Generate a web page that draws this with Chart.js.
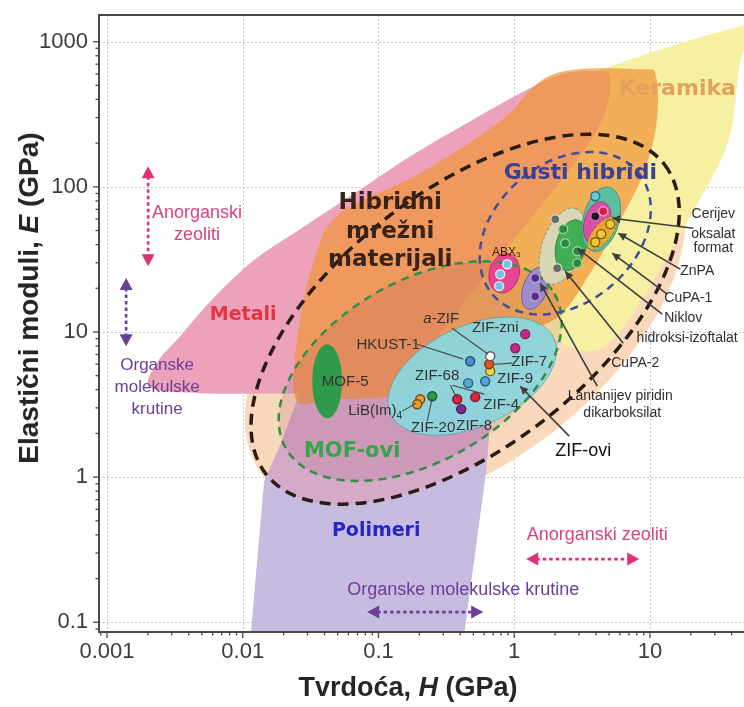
<!DOCTYPE html>
<html>
<head>
<meta charset="utf-8">
<script src="https://cdn.jsdelivr.net/npm/chart.js@4.4.1/dist/chart.umd.min.js"></script>
<style>
  html, body { margin: 0; padding: 0; background: #fff; }
</style>
</head>
<body>
<canvas id="chart" width="744" height="707"></canvas>
<script>
// axes: hardness H and elastic modulus E, both in GPa
const xRange = [0.000873, 49.3];
const yRange = [0.0857, 1527];
const xTickLabels = ['0.001', '0.01', '0.1', '1', '10'];
const yTickLabels = ['0.1', '1', '10', '100', '1000'];

// material family outlines, vertices as [H, E]
const ceramicsOutline = [[0.338, 79.6], [1.107, 389], [4.45, 645], [16.7, 975], [49.5, 1297], [91.2, 1496],
  [91.2, 1089], [49.5, 887], [37.8, 206], [19.8, 62.7], [10.05, 20.7], [6.04, 10.13], [3.63, 7.38], [1.55, 10.13], [0.562, 22.4]];
const metalsOutline = [[0.00208, 4.17], [0.00238, 6.29], [0.00346, 9.36], [0.00626, 17.6], [0.0123, 31.7], [0.0265, 51.1],
  [0.0619, 86.1], [0.171, 162], [0.474, 283], [1.107, 441], [2.11, 587], [3.63, 625], [5.10, 551], [3.63, 206],
  [0.562, 22.4], [0.203, 6.29], [0.1445, 3.91], [0.0265, 3.79], [0.00486, 3.79]];
const orangeOutline = [[0.0522, 65.8], [0.203, 124], [0.789, 283], [1.94, 596], [8.48, 645], [11.13, 569], [11.13, 262],
  [8.78, 118], [5.55, 51.1], [3.51, 24.2], [2.0, 12.25], [0.789, 9.36], [0.338, 6.29], [0.171, 3.79], [0.044, 3.44],
  [0.0247, 3.44], [0.0256, 10.13], [0.0342, 33.0]];
const polymerOutline = [[0.01134, 0.0742], [0.421, 0.0742], [0.622, 1.10], [0.688, 3.91], [0.0265, 3.91], [0.0195, 1.77], [0.01438, 0.939]];

// ellipses: [centre, end of major axis, end of minor axis], each [H, E]
const peachEllipse = [[0.435, 12.25], [13.35, 149.4], [1.942, 2.051]];
const hybridEllipse = [[0.435, 12.25], [12.75, 143], [1.66, 2.47]];
const denseEllipse = [[2.376, 47.9], [8.17, 126.2], [5.10, 20.5]];
const mofEllipse = [[0.203, 5.37], [1.978, 18.36], [0.435, 1.562]];
const zifEllipse = [[0.490, 4.96], [1.958, 9.06], [0.7025, 2.418]];
const mof5Ellipse = [[0.0419, 4.58], [0.0419, 8.24], [0.054, 4.58]];
const abx3Ellipse = [[0.844, 25.4], [0.922, 34.5], [1.079, 23.9]];
const lanthanumEllipse = [[1.428, 20.03], [1.622, 27.8], [1.73, 18.77]];
const cupa2Ellipse = [[2.258, 38.98], [2.849, 70.8], [3.107, 35.0]];
const nickelEllipse = [[2.63, 39.6], [2.947, 58.97], [3.365, 37.2]];
const cupa1Ellipse = [[4.376, 59.8], [5.055, 99.2], [5.88, 55.5]];
const znpaEllipse = [[4.09, 56.2], [4.504, 78.6], [5.064, 53.2]];
const ceriumEllipse = [[4.45, 47.9], [5.54, 61.1], [5.003, 43.7]];

// individual materials [H, E]
const abx3Pts = [[0.888, 29.3], [0.789, 25.0], [0.775, 20.7]];
const lanthanumPts = [[1.428, 23.5], [1.428, 17.6]];
const cupa2Pts = [[2.005, 59.8], [2.074, 27.5]];
const nickelPts = [[2.297, 51.1], [2.376, 40.9], [2.912, 36.0], [2.912, 29.8]];
const cupa1Pts = [[3.954, 86.1]];
const znpaRedPts = [[4.53, 67.9]];
const znpaBlackPts = [[3.954, 62.7]];
const ceriumPts = [[3.954, 41.5], [4.376, 47.2], [5.10, 55.3]];
const zifZniPts = [[1.205, 9.66], [1.017, 7.73]];
const aZifPts = [[0.666, 6.81]];
const zif7Pts = [[0.654, 6.0]];
const zif9Pts = [[0.666, 5.37]];
const hkustPts = [[0.474, 6.29]];
const zif68Pts = [[0.458, 4.44], [0.611, 4.58]];
const zif4Pts = [[0.380, 3.44], [0.516, 3.56]];
const zif8Pts = [[0.407, 2.94]];
const libImPts = [[0.203, 3.44], [0.193, 3.18]];
const zif20Pts = [[0.249, 3.61]];

const dotGroups = [
  [abx3Pts, '#6ac7ea', '#f7e0ec'], [lanthanumPts, '#5a2c8c', '#b9a6db'], [cupa2Pts, '#6a6a6a', '#d8d8c0'],
  [nickelPts, '#2a8a42', '#9fd49c'], [cupa1Pts, '#62c9dc', '#2f6f70'], [znpaRedPts, '#d8203f', '#f2a0c8'],
  [znpaBlackPts, '#1b1b1b', '#d070b0'], [ceriumPts, '#f3c53a', '#6b6616'],
  [zifZniPts, '#c8248a', '#7a2a5a'], [aZifPts, '#ffffff', '#555555'], [zif7Pts, '#e0531f', '#7a3a1a'],
  [zif9Pts, '#efd637', '#7a6a1a'], [hkustPts, '#4a8fcf', '#2a4a7a'], [zif68Pts, '#58a6d6', '#2a5a7a'],
  [zif4Pts, '#d9263c', '#7a1a2a'], [zif8Pts, '#7d2c93', '#4a1a5a'], [libImPts, '#f09a2a', '#7a4a1a'],
  [zif20Pts, '#2e9a48', '#1a5a2a']
];

const clusterStyles = [
  [abx3Ellipse, '#e6468f', '#c03070', false], [lanthanumEllipse, '#9c8ccb', '#6f5fa0', false],
  [cupa2Ellipse, '#d9d6b4', '#8a8a78', true], [nickelEllipse, '#3fae55', '#2e8a40', false],
  [cupa1Ellipse, '#5cc0a0', '#3a9a80', false], [znpaEllipse, '#d64fa8', '#a83a86', false],
  [ceriumEllipse, 'rgba(242,172,40,0.9)', '#8a7a20', true]
];

const bigLabels = [
  ['Keramika', [15.9, 470], 22, '#e2a15f'],
  ['Gusti hibridi', [3.07, 124], 22, '#3b418f'],
  ['Hibridni', [0.122, 77.1], 23, '#38231a'],
  ['mrežni', [0.122, 48.7], 23, '#38231a'],
  ['materijali', [0.122, 31.2], 23, '#38231a'],
  ['Metali', [0.01007, 13.05], 19, '#e3343f'],
  ['MOF-ovi', [0.064, 1.51], 21, '#35a64a'],
  ['Polimeri', [0.0962, 0.425], 19, '#2626c8']
];

const noteLabels = [
  ['Anorganski', [0.00461, 65.8], 18, '#d6437f'],
  ['zeoliti', [0.00461, 46.4], 18, '#d6437f'],
  ['Organske', [0.00234, 5.91], 17, '#6b3f98'],
  ['molekulske', [0.00234, 4.17], 17, '#6b3f98'],
  ['krutine', [0.00234, 2.94], 17, '#6b3f98'],
  ['Anorganski zeoliti', [4.09, 0.399], 18, '#d6437f'],
  ['Organske molekulske krutine', [0.421, 0.1666], 18, '#6b3f98'],
  ['Cerijev', [29.3, 64.8], 14, '#2e2e2e'],
  ['oksalat', [29.3, 47.2], 14, '#2e2e2e'],
  ['format', [29.3, 37.8], 14, '#2e2e2e'],
  ['ZnPA', [22.3, 26.2], 14, '#2e2e2e'],
  ['CuPA-1', [19.15, 17.1], 14, '#2e2e2e'],
  ['Niklov', [17.6, 12.45], 14, '#2e2e2e'],
  ['hidroksi-izoftalat', [18.8, 9.06], 14, '#2e2e2e'],
  ['CuPA-2', [7.79, 6.10], 14, '#2e2e2e'],
  ['Lantanijev piridin', [6.04, 3.61], 14, '#2e2e2e'],
  ['dikarboksilat', [6.25, 2.76], 14, '#2e2e2e'],
  ['ZIF-ovi', [3.225, 1.51], 18, '#111111'],
  ['ZIF-zni', [0.7244, 10.62], 15, '#333333'],
  ['HKUST-1', [0.1179, 8.11], 15, '#333333'],
  ['ZIF-7', [1.29, 6.19], 15, '#333333'],
  ['ZIF-68', [0.2708, 4.96], 15, '#333333'],
  ['ZIF-9', [1.017, 4.73], 15, '#333333'],
  ['MOF-5', [0.0568, 4.51], 15, '#333333'],
  ['ZIF-4', [0.802, 3.13], 15, '#333333'],
  ['ZIF-20', [0.2529, 2.175], 15, '#333333'],
  ['ZIF-8', [0.507, 2.245], 15, '#333333']
];

// pointer lines: from label to cluster
const pointerLines = [
  [[20.85, 51.9], [5.275, 60.8]], [[16.72, 27.1], [5.84, 47.9]], [[13.41, 18.2], [5.275, 34.9]],
  [[12.32, 13.27], [2.912, 37.8]], [[6.36, 8.37], [2.376, 26.2]], [[4.09, 4.23], [1.554, 21.7]],
  [[2.543, 1.916], [1.107, 4.23]]
];
const zifLines = [
  [[0.349, 10.62], [0.643, 7.03]], [[0.193, 8.24], [0.421, 6.5]], [[0.967, 6.10], [0.712, 6.0]],
  [[0.3377, 4.30], [0.380, 3.50]], [[0.349, 4.30], [0.601, 3.73]], [[0.1495, 2.85], [0.1896, 3.23]],
  [[0.2285, 2.43], [0.249, 3.50]]
];
const dottedArrows = [
  [[0.00201, 138.7], [0.00201, 28.4], '#e0307c'],
  [[0.001383, 23.5], [0.001383, 7.98], '#6b3f98'],
  [[1.226, 0.2724], [8.34, 0.2724], '#e0307c'],
  [[0.0825, 0.1175], [0.591, 0.1175], '#6b3f98']
];

const isMajor = v => Math.abs(Math.log10(v) - Math.round(Math.log10(v))) < 1e-6;
const SANS = '"Liberation Sans", Arial, sans-serif';
const BOLD = '"DejaVu Sans", sans-serif';

function logTicks(min, max) {
  const out = [];
  for (let e = Math.floor(Math.log10(min)); e <= Math.ceil(Math.log10(max)); e++) {
    for (let m = 1; m <= 9; m++) {
      const v = parseFloat((m * Math.pow(10, e)).toPrecision(10));
      if (v >= min && v <= max) out.push({ value: v });
    }
  }
  return out;
}

function splinePath(ctx, pts) {
  const n = pts.length;
  ctx.beginPath();
  ctx.moveTo(pts[0][0], pts[0][1]);
  for (let i = 0; i < n; i++) {
    const p0 = pts[(i - 1 + n) % n], p1 = pts[i], p2 = pts[(i + 1) % n], p3 = pts[(i + 2) % n];
    ctx.bezierCurveTo(p1[0] + (p2[0] - p0[0]) / 6, p1[1] + (p2[1] - p0[1]) / 6,
      p2[0] - (p3[0] - p1[0]) / 6, p2[1] - (p3[1] - p1[1]) / 6, p2[0], p2[1]);
  }
  ctx.closePath();
}

function polyPath(ctx, pts) {
  ctx.beginPath();
  pts.forEach((p, i) => i ? ctx.lineTo(p[0], p[1]) : ctx.moveTo(p[0], p[1]));
  ctx.closePath();
}

function ellipsePath(ctx, P, def) {
  const C = P(def[0]), M = P(def[1]), N = P(def[2]);
  ctx.beginPath();
  ctx.ellipse(C[0], C[1], Math.hypot(M[0] - C[0], M[1] - C[1]), Math.hypot(N[0] - C[0], N[1] - C[1]),
    Math.atan2(M[1] - C[1], M[0] - C[0]), 0, Math.PI * 2);
}

function arrowHead(ctx, from, to, len, half) {
  const dx = to[0] - from[0], dy = to[1] - from[1], d = Math.hypot(dx, dy), ux = dx / d, uy = dy / d;
  ctx.beginPath();
  ctx.moveTo(to[0], to[1]);
  ctx.lineTo(to[0] - ux * len - uy * half, to[1] - uy * len + ux * half);
  ctx.lineTo(to[0] - ux * len + uy * half, to[1] - uy * len - ux * half);
  ctx.closePath();
  ctx.fill();
}

function richText(ctx, parts, x, y, size, color, align) {
  ctx.fillStyle = color;
  ctx.textBaseline = 'middle';
  ctx.textAlign = 'left';
  let w = 0;
  parts.forEach(p => { ctx.font = p[1].replace('$', Math.round(size * (p[3] || 1))); w += ctx.measureText(p[0]).width; });
  let cx = align === 'center' ? x - w / 2 : x;
  parts.forEach(p => {
    ctx.font = p[1].replace('$', Math.round(size * (p[3] || 1)));
    ctx.fillText(p[0], cx, y + (p[2] || 0));
    cx += ctx.measureText(p[0]).width;
  });
}

const mapPlugin = {
  id: 'ashbyMap',
  beforeDatasetsDraw(chart) {
    const { ctx, chartArea: a, scales: { x, y } } = chart;
    const P = ([h, e]) => [x.getPixelForValue(h), y.getPixelForValue(e)];
    const fill = (pathFn, color) => { pathFn(); ctx.fillStyle = color; ctx.fill(); };
    ctx.save();
    ctx.beginPath();
    ctx.rect(a.left, a.top, a.right - a.left, a.bottom - a.top);
    ctx.clip();

    // dotted grid at decades
    ctx.strokeStyle = '#c6c6c6';
    ctx.lineWidth = 1;
    ctx.setLineDash([2, 2]);
    xTickLabels.forEach(t => {
      const p = Math.round(x.getPixelForValue(+t)) + 0.5;
      ctx.beginPath(); ctx.moveTo(p, a.top); ctx.lineTo(p, a.bottom); ctx.stroke();
    });
    yTickLabels.forEach(t => {
      const p = Math.round(y.getPixelForValue(+t)) + 0.5;
      ctx.beginPath(); ctx.moveTo(a.left, p); ctx.lineTo(a.right, p); ctx.stroke();
    });
    ctx.setLineDash([]);

    fill(() => ellipsePath(ctx, P, peachEllipse), '#f9d8bb');
    fill(() => splinePath(ctx, ceramicsOutline.map(P)), '#f6f0a3');
    fill(() => polyPath(ctx, polymerOutline.map(P)), '#c7bbdf');
    ctx.save();
    ellipsePath(ctx, P, hybridEllipse);
    ctx.clip();
    fill(() => polyPath(ctx, polymerOutline.map(P)), '#d6a9c8');
    ctx.restore();
    fill(() => splinePath(ctx, metalsOutline.map(P)), '#eda2bc');
    fill(() => splinePath(ctx, orangeOutline.map(P)), 'rgba(240,150,58,0.72)');
    fill(() => ellipsePath(ctx, P, mofEllipse), 'rgba(150,60,90,0.14)');

    fill(() => ellipsePath(ctx, P, mof5Ellipse), '#2f9a4a');
    ellipsePath(ctx, P, zifEllipse);
    ctx.fillStyle = 'rgba(140,213,220,0.95)';
    ctx.fill();
    ctx.strokeStyle = 'rgba(70,150,160,0.6)';
    ctx.lineWidth = 1;
    ctx.stroke();

    clusterStyles.forEach(([def, fc, sc, dashed]) => {
      ellipsePath(ctx, P, def);
      ctx.fillStyle = fc;
      ctx.fill();
      ctx.strokeStyle = sc;
      ctx.lineWidth = 1;
      ctx.setLineDash(dashed ? [3, 2] : []);
      ctx.stroke();
    });
    ctx.setLineDash([]);

    const dashedRing = (def, color, w, dash) => {
      ellipsePath(ctx, P, def);
      ctx.strokeStyle = color;
      ctx.lineWidth = w;
      ctx.setLineDash(dash);
      ctx.stroke();
    };
    dashedRing(mofEllipse, '#2f8f45', 2.5, [8, 6]);
    dashedRing(denseEllipse, '#3d4f9e', 2.5, [8, 6]);
    dashedRing(hybridEllipse, '#2a1c14', 3.5, [11, 7]);
    ctx.setLineDash([]);
    ctx.restore();
  },
  afterDatasetsDraw(chart) {
    const { ctx, chartArea: a, scales: { x, y } } = chart;
    const P = ([h, e]) => [x.getPixelForValue(h), y.getPixelForValue(e)];
    ctx.save();

    // pointer lines with heads at the clusters
    ctx.strokeStyle = '#3d3d3d';
    ctx.fillStyle = '#3d3d3d';
    ctx.lineWidth = 1.6;
    pointerLines.forEach(([s, t]) => {
      const A = P(s), B = P(t);
      ctx.beginPath(); ctx.moveTo(A[0], A[1]); ctx.lineTo(B[0], B[1]); ctx.stroke();
      arrowHead(ctx, A, B, 8, 4);
    });
    ctx.strokeStyle = '#4a4a4a';
    ctx.lineWidth = 1.1;
    zifLines.forEach(([s, t]) => {
      const A = P(s), B = P(t);
      ctx.beginPath(); ctx.moveTo(A[0], A[1]); ctx.lineTo(B[0], B[1]); ctx.stroke();
    });

    // dotted double arrows
    dottedArrows.forEach(([s, t, color]) => {
      const A = P(s), B = P(t);
      const d = Math.hypot(B[0] - A[0], B[1] - A[1]), ux = (B[0] - A[0]) / d, uy = (B[1] - A[1]) / d;
      ctx.strokeStyle = color;
      ctx.fillStyle = color;
      ctx.lineWidth = 2.6;
      ctx.setLineDash([3.5, 3]);
      ctx.beginPath();
      ctx.moveTo(A[0] + ux * 10, A[1] + uy * 10);
      ctx.lineTo(B[0] - ux * 10, B[1] - uy * 10);
      ctx.stroke();
      ctx.setLineDash([]);
      arrowHead(ctx, B, A, 12, 6.5);
      arrowHead(ctx, A, B, 12, 6.5);
    });

    bigLabels.forEach(([t, at, size, color]) => {
      const p = P(at);
      richText(ctx, [[t, 'bold $px ' + BOLD]], p[0], p[1], size, color, 'center');
    });
    noteLabels.forEach(([t, at, size, color]) => {
      const p = P(at);
      richText(ctx, [[t, '$px ' + SANS]], p[0], p[1], size, color, 'center');
    });
    let p = P([0.290, 12.25]);
    richText(ctx, [['a', 'italic $px ' + SANS], ['-ZIF', '$px ' + SANS]], p[0], p[1], 15, '#333333', 'center');
    p = P([0.0946, 2.85]);
    richText(ctx, [['LiB(Im)', '$px ' + SANS], ['4', '$px ' + SANS, 5, 0.65]], p[0], p[1], 15, '#333333', 'center');
    p = P([0.873, 35.4]);
    richText(ctx, [['ABX', '$px ' + SANS], ['3', '$px ' + SANS, 3, 0.65]], p[0], p[1], 12, '#3a1a10', 'center');

    // frame and tick marks
    ctx.strokeStyle = '#4a4a4a';
    ctx.lineWidth = 2;
    ctx.beginPath();
    ctx.moveTo(a.right, a.top); ctx.lineTo(a.left, a.top); ctx.lineTo(a.left, a.bottom); ctx.lineTo(a.right, a.bottom);
    ctx.stroke();
    ctx.lineWidth = 1.3;
    x.ticks.forEach(t => {
      const px = x.getPixelForValue(t.value), len = isMajor(t.value) ? 6 : 3.5;
      ctx.beginPath(); ctx.moveTo(px, a.bottom); ctx.lineTo(px, a.bottom + len); ctx.stroke();
    });
    y.ticks.forEach(t => {
      const py = y.getPixelForValue(t.value), len = isMajor(t.value) ? 6 : 3.5;
      ctx.beginPath(); ctx.moveTo(a.left, py); ctx.lineTo(a.left - len, py); ctx.stroke();
    });

    // axis titles
    richText(ctx, [['Tvrdoća, ', 'bold $px ' + SANS], ['H', 'bold italic $px ' + SANS], [' (GPa)', 'bold $px ' + SANS]],
      a.left + 309, a.bottom + 57, 27, '#262626', 'center');
    ctx.translate(30, a.top + 283);
    ctx.rotate(-Math.PI / 2);
    richText(ctx, [['Elastični moduli, ', 'bold $px ' + SANS], ['E', 'bold italic $px ' + SANS], [' (GPa)', 'bold $px ' + SANS]],
      0, 0, 28, '#262626', 'center');
    ctx.restore();
  }
};

const tickFont = { family: SANS, size: 22 };
const labelFor = list => v => list.find(l => Math.abs(Math.log10(+l) - Math.log10(v)) < 1e-6) || '';

new Chart(document.getElementById('chart'), {
  type: 'scatter',
  data: {
    datasets: dotGroups.map(([pts, fc, sc]) => ({
      data: pts.map(([h, e]) => ({ x: h, y: e })),
      pointRadius: 4.5,
      pointBackgroundColor: fc,
      pointBorderColor: sc,
      pointBorderWidth: 1.4
    }))
  },
  options: {
    responsive: false,
    animation: false,
    devicePixelRatio: 1,
    events: [],
    layout: { autoPadding: false, padding: { top: 15, right: 0, bottom: 0, left: 0 } },
    plugins: { legend: { display: false }, tooltip: { enabled: false } },
    scales: {
      x: {
        type: 'logarithmic',
        min: xRange[0],
        max: xRange[1],
        afterFit: s => { s.height = 75; s.paddingLeft = 0; s.paddingRight = 0; },
        afterBuildTicks: s => { s.ticks = logTicks(xRange[0], xRange[1]); },
        grid: { display: false, drawTicks: false },
        border: { display: false },
        ticks: { autoSkip: false, maxRotation: 0, padding: 7, color: '#3c3c3c', font: tickFont, callback: labelFor(xTickLabels) }
      },
      y: {
        type: 'logarithmic',
        min: yRange[0],
        max: yRange[1],
        afterFit: s => { s.width = 99; s.paddingTop = 0; s.paddingBottom = 0; },
        afterBuildTicks: s => { s.ticks = logTicks(yRange[0], yRange[1]); },
        grid: { display: false, drawTicks: false },
        border: { display: false },
        ticks: { autoSkip: false, padding: 11, color: '#3c3c3c', font: tickFont, callback: labelFor(yTickLabels) }
      }
    }
  },
  plugins: [mapPlugin]
});
</script>
</body>
</html>
